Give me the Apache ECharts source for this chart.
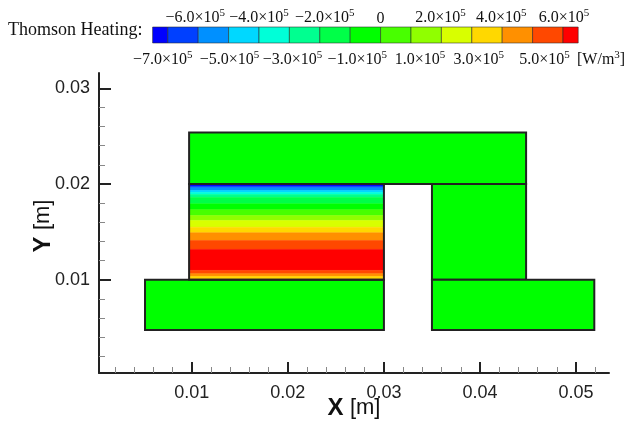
<!DOCTYPE html>
<html>
<head>
<meta charset="utf-8">
<style>html,body{margin:0;background:#fff}#main{width:628px;height:422px}</style>
<script src="https://cdn.jsdelivr.net/npm/echarts@6/dist/echarts.min.js"></script>
</head>
<body>
<div id="main"></div>
<script>
// solid regions: xmin, xmax, ymin, ymax [m]
var blocks = [
  [0.00513, 0.03, 0.00474, 0.01],
  [0.00972, 0.0448, 0.02, 0.02537],
  [0.035, 0.0448, 0.01, 0.02],
  [0.035, 0.0519, 0.00474, 0.01]
];
var hotBlock = [0.00972, 0.03, 0.01, 0.02];
var blockValue = -0.5e5;

// contour bands inside the hot block, top to bottom
var hotEdges = [0.02, 0.01977, 0.0196, 0.01932, 0.01911, 0.0189, 0.01862, 0.01793, 0.01731, 0.01671,
  0.01619, 0.01549, 0.0149, 0.0141, 0.01316, 0.01097, 0.01062, 0.01034, 0.01];
var hotValues = [-7.25e5, -6.5e5, -5.5e5, -4.5e5, -3.5e5, -2.5e5, -1.5e5, -0.5e5, 0.5e5, 1.5e5,
  2.5e5, 3.5e5, 4.5e5, 5.5e5, 6.25e5, 5.5e5, 4.5e5, 3.5e5];

// colour bar
var levelEdges = [-7.5e5, -7e5, -6e5, -5e5, -4e5, -3e5, -2e5, -1e5, 0, 1e5, 2e5, 3e5, 4e5, 5e5, 6e5, 6.5e5];
var levelColors = ['#0000ff', '#0040ff', '#0090ff', '#00d8ff', '#00ffd8', '#00ff90', '#00ff48', '#00ff00',
  '#48ff00', '#90ff00', '#d8ff00', '#ffd800', '#ff9000', '#ff4800', '#ff0000'];
var lowerTicks = [-7e5, -5e5, -3e5, -1e5, 1e5, 3e5, 5e5];
var upperTicks = [-6e5, -4e5, -2e5, 0, 2e5, 4e5, 6e5];
// the colour bar labels sit a little off their ticks in the original
var lowerShift = [-5, 1, 3, 7, 9, 7, 12];
var upperShift = [-3, 0, 5, 0, -1, -1, 1];

// axis ticks
var xMajor = [0.01, 0.02, 0.03, 0.04, 0.05];
var xMinor = [0.002, 0.004, 0.006, 0.008, 0.012, 0.014, 0.016, 0.018, 0.022, 0.024, 0.026, 0.028,
  0.032, 0.034, 0.036, 0.038, 0.042, 0.044, 0.046, 0.048, 0.052];
var yMajor = [0.01, 0.02, 0.03];
var yMinor = [0.002, 0.004, 0.006, 0.008, 0.012, 0.014, 0.016, 0.018, 0.022, 0.024, 0.026, 0.028];

function colorOf(v) {
  for (var i = 0; i < levelColors.length; i++) {
    if (v >= levelEdges[i] && v < levelEdges[i + 1]) return levelColors[i];
  }
  return levelColors[levelColors.length - 1];
}

function rectItem(x0, x1, y0, y1, api, style) {
  var a = api.coord([x0, y1]);
  var b = api.coord([x1, y0]);
  return { type: 'rect', shape: { x: a[0], y: a[1], width: b[0] - a[0], height: b[1] - a[1] }, style: style };
}

function bandData() {
  var out = [];
  for (var i = 0; i < hotValues.length; i++) {
    out.push([hotBlock[0], hotBlock[1], hotEdges[i + 1], hotEdges[i], hotValues[i]]);
  }
  return out;
}

function levelData() {
  var out = [];
  for (var i = 0; i < levelColors.length; i++) {
    out.push([levelEdges[i], levelEdges[i + 1], i]);
  }
  return out;
}

var serif = 'Liberation Serif';
var sans = 'Liberation Sans';

// rich styles for one row of level labels, padding moves each label by its shift
function levelRichFor(shifts) {
  var rich = {};
  shifts.forEach(function (s, i) {
    var left = s > 0 ? 2 * s : 0;
    var right = s < 0 ? -2 * s : 0;
    rich['n' + i] = { fontFamily: serif, fontSize: 16, color: '#111', padding: [0, 0, 0, left] };
    rich['s' + i] = { fontFamily: serif, fontSize: 11, color: '#111', padding: [0, right, 8, 0] };
  });
  return rich;
}

function levelFormatter(ticks) {
  return function (v) {
    var i = ticks.indexOf(v);
    if (v === 0) return '{n' + i + '|0}';
    return '{n' + i + '|' + (v < 0 ? '\u2212' : '') + (Math.abs(v) / 1e5).toFixed(1) + '\u00d710}{s' + i + '|5}';
  };
}

var xNameRich = {
  b: { fontFamily: sans, fontSize: 24, fontWeight: 'bold', color: '#111' },
  r: { fontFamily: sans, fontSize: 22, color: '#111', padding: [0, 0, 0, 3] }
};
var yNameRich = {
  b: { fontFamily: sans, fontSize: 24, fontWeight: 'bold', color: '#111' },
  r: { fontFamily: sans, fontSize: 22, color: '#111', padding: [0, 6, 0, 3] }
};

var chart = echarts.init(document.getElementById('main'), null, { renderer: 'canvas' });

chart.setOption({
  animation: false,
  backgroundColor: '#fff',
  title: [
    { text: 'Thomson Heating:', left: 8, top: 21, padding: 0, textStyle: { fontFamily: serif, fontSize: 18, fontWeight: 'normal', color: '#111' } },
    { text: '[W/m{s|3}]', left: 577, top: 50, padding: 0, textStyle: { fontFamily: serif, fontSize: 16, fontWeight: 'normal', color: '#111',
      rich: { s: { fontFamily: serif, fontSize: 11, color: '#111', padding: [0, 0, 8, 0] } } } }
  ],
  grid: [
    { left: 99, right: 19, top: 73, bottom: 49, outerBoundsMode: 'none' },
    { left: 152.6, width: 425.6, top: 27, height: 16, outerBoundsMode: 'none' }
  ],
  xAxis: [
    {
      gridIndex: 0, type: 'value', position: 'bottom', min: 0.00034, max: 0.05343,
      name: '{b|X} {r|[m]}', nameLocation: 'middle', nameGap: 23, nameMoveOverlap: false, nameTextStyle: { rich: xNameRich },
      splitLine: { show: false },
      axisLine: { onZero: false, lineStyle: { color: '#222', width: 2 } },
      axisTick: { inside: true, length: 11, customValues: xMajor, lineStyle: { color: '#222', width: 2 } },
      axisLabel: { customValues: xMajor, margin: 11, fontFamily: sans, fontSize: 18, color: '#222' }
    },
    {
      gridIndex: 0, type: 'value', position: 'bottom', min: 0.00034, max: 0.05343,
      splitLine: { show: false },
      axisLine: { show: false, onZero: false },
      axisTick: { inside: true, length: 6, customValues: xMinor, lineStyle: { color: '#888', width: 1 } },
      axisLabel: { show: false }
    },
    {
      gridIndex: 1, type: 'value', position: 'bottom', min: -7.5e5, max: 6.5e5,
      splitLine: { show: false }, axisLine: { show: false, onZero: false }, axisTick: { show: false },
      axisLabel: { customValues: lowerTicks, margin: 7, formatter: levelFormatter(lowerTicks), rich: levelRichFor(lowerShift), hideOverlap: false }
    },
    {
      gridIndex: 1, type: 'value', position: 'top', min: -7.5e5, max: 6.5e5,
      splitLine: { show: false }, axisLine: { show: false, onZero: false }, axisTick: { show: false },
      axisLabel: { customValues: upperTicks, margin: 0, formatter: levelFormatter(upperTicks), rich: levelRichFor(upperShift), hideOverlap: false }
    }
  ],
  yAxis: [
    {
      gridIndex: 0, type: 'value', position: 'left', min: 0.00025, max: 0.0316,
      name: '{b|Y} {r|[m]}', nameLocation: 'middle', nameGap: 44, nameMoveOverlap: false, nameTextStyle: { rich: yNameRich },
      splitLine: { show: false },
      axisLine: { onZero: false, lineStyle: { color: '#222', width: 2 } },
      axisTick: { inside: true, length: 12, customValues: yMajor, lineStyle: { color: '#222', width: 2 } },
      axisLabel: { customValues: yMajor, margin: 9, fontFamily: sans, fontSize: 18, color: '#222' }
    },
    {
      gridIndex: 0, type: 'value', position: 'left', min: 0.00025, max: 0.0316,
      splitLine: { show: false },
      axisLine: { show: false, onZero: false },
      axisTick: { inside: true, length: 6, customValues: yMinor, lineStyle: { color: '#888', width: 1 } },
      axisLabel: { show: false }
    },
    {
      gridIndex: 1, type: 'value', min: 0, max: 1, show: false
    }
  ],
  series: [
    {
      type: 'custom', xAxisIndex: 0, yAxisIndex: 0, silent: true, clip: false, z: 2,
      data: bandData(),
      renderItem: function (params, api) {
        var fill = colorOf(api.value(4));
        return rectItem(api.value(0), api.value(1), api.value(2), api.value(3), api, { fill: fill, stroke: fill, lineWidth: 0.5 });
      }
    },
    {
      type: 'custom', xAxisIndex: 0, yAxisIndex: 0, silent: true, clip: false, z: 3,
      data: blocks,
      renderItem: function (params, api) {
        return rectItem(api.value(0), api.value(1), api.value(2), api.value(3), api, { fill: colorOf(blockValue), stroke: '#222', lineWidth: 2 });
      }
    },
    {
      type: 'custom', xAxisIndex: 0, yAxisIndex: 0, silent: true, clip: false, z: 4,
      data: [hotBlock],
      renderItem: function (params, api) {
        return rectItem(api.value(0), api.value(1), api.value(2), api.value(3), api, { fill: 'none', stroke: '#222', lineWidth: 2 });
      }
    },
    {
      type: 'custom', xAxisIndex: 2, yAxisIndex: 2, silent: true, clip: false, z: 2,
      data: levelData(),
      renderItem: function (params, api) {
        return rectItem(api.value(0), api.value(1), 0, 1, api, { fill: levelColors[api.value(2)], stroke: 'rgba(40,40,40,0.55)', lineWidth: 1 });
      }
    }
  ]
});
</script>
</body>
</html>
